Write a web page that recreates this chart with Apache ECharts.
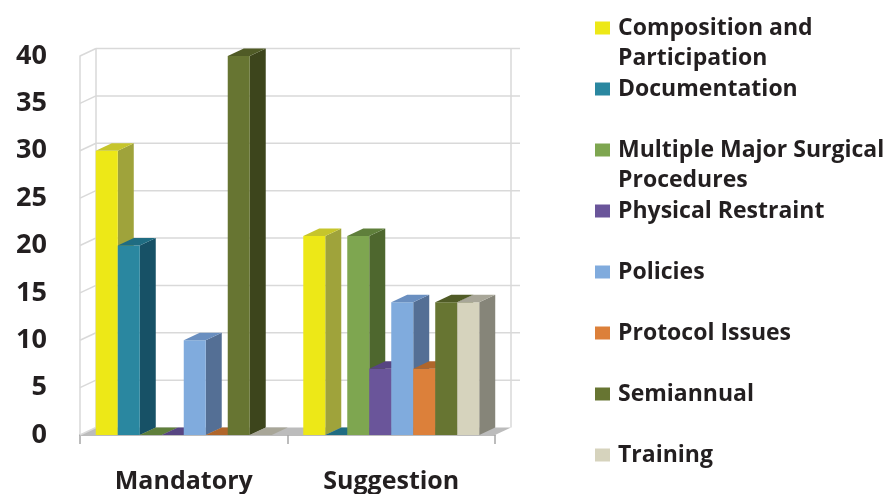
<!DOCTYPE html>
<html>
<head>
<meta charset="utf-8">
<script src="https://cdn.jsdelivr.net/npm/echarts@6/dist/echarts.min.js"></script>
<style>
  html, body { margin: 0; padding: 0; background: #ffffff; }
  #chart { width: 893px; height: 494px; }
</style>
</head>
<body>
<div id="chart"></div>
<script>
// Categories on the horizontal axis
var categories = ['Mandatory', 'Suggestion'];

// One value per category for each series
var seriesNames = [
  'Composition and Participation',
  'Documentation',
  'Multiple Major Surgical Procedures',
  'Physical Restraint',
  'Policies',
  'Protocol Issues',
  'Semiannual',
  'Training'
];
var compositionValues = [30, 21];
var documentationValues = [20, 0];
var multipleMajorValues = [0, 21];
var physicalRestraintValues = [0, 7];
var policiesValues = [10, 14];
var protocolIssuesValues = [0, 7];
var semiannualValues = [40, 14];
var trainingValues = [0, 14];

// Legend text, wrapped like the original labels
var legendLines = {
  'Composition and Participation': ['Composition and', 'Participation'],
  'Multiple Major Surgical Procedures': ['Multiple Major Surgical', 'Procedures']
};

// Value axis ticks
var yTicks = [0, 5, 10, 15, 20, 25, 30, 35, 40];

var seriesValues = [
  compositionValues, documentationValues, multipleMajorValues,
  physicalRestraintValues, policiesValues, protocolIssuesValues,
  semiannualValues, trainingValues
];

// Face colours: front, top, side
var palette = [
  ['#ede817', '#c6c52c', '#9fa33b'],
  ['#2a87a0', '#1f6c82', '#175166'],
  ['#7ea650', '#5f7f3b', '#4e672e'],
  ['#6a559a', '#574582', '#4a3b6c'],
  ['#80abdd', '#6a8fc0', '#546f95'],
  ['#dc803a', '#b0662b', '#9a5a28'],
  ['#677532', '#505b26', '#3d451c'],
  ['#d6d3bd', '#a8a698', '#868579']
];

// Depth of the 3-D projection
var DX = 16, DY = -7.5;
var TEXT = '#231f20';
var FONT = '"Open Sans", "DejaVu Sans", sans-serif';

function renderWalls(params, api) {
  var cs = params.coordSys;
  var x0 = cs.x, x1 = cs.x + cs.width;
  var children = [];
  var yBase = api.coord([0, yTicks[0]])[1];
  var yTop = api.coord([0, yTicks[yTicks.length - 1]])[1];
  var wallLine = { stroke: '#d9d9d9', lineWidth: 1.5, fill: null };
  // floor
  children.push({
    type: 'polygon',
    shape: { points: [[x0, yBase], [x1, yBase], [x1 + DX, yBase + DY], [x0 + DX, yBase + DY]] },
    style: { fill: '#bcbcbc' }
  });
  // back wall and left wall grid lines
  yTicks.forEach(function (v) {
    var y = api.coord([0, v])[1];
    if (v !== 0) {
      children.push({ type: 'line', shape: { x1: x0 + DX, y1: y + DY, x2: x1 + DX + 9, y2: y + DY }, style: wallLine });
    }
    children.push({ type: 'line', shape: { x1: x0, y1: y, x2: x0 + DX, y2: y + DY }, style: wallLine });
  });
  // wall edges
  children.push({ type: 'line', shape: { x1: x0 + DX, y1: yBase + DY, x2: x0 + DX, y2: yTop + DY }, style: wallLine });
  children.push({ type: 'line', shape: { x1: x1 + DX, y1: yBase + DY, x2: x1 + DX, y2: yTop + DY }, style: wallLine });
  return { type: 'group', children: children };
}

function makeBarRenderer(si) {
  return function (params, api) {
    var cat = api.value(0);
    var val = api.value(1);
    var c = api.coord([cat, val]);
    var base = api.coord([cat, 0]);
    var band = api.size([1, 0])[0];
    var bw = band * 0.106;
    var xl = c[0] - 4 * bw + si * bw;
    var xr = xl + bw;
    var yt = c[1], yb = base[1];
    var col = palette[si];
    var children = [];
    if (yb - yt > 0.5) {
      children.push({
        type: 'polygon',
        shape: { points: [[xr, yb], [xr + DX, yb + DY], [xr + DX, yt + DY], [xr, yt]] },
        style: { fill: col[2] }
      });
      children.push({
        type: 'rect',
        shape: { x: xl, y: yt, width: bw, height: yb - yt },
        style: { fill: col[0] }
      });
    }
    children.push({
      type: 'polygon',
      shape: { points: [[xl, yt], [xr, yt], [xr + DX, yt + DY], [xl + DX, yt + DY]] },
      style: { fill: col[1] }
    });
    return { type: 'group', children: children };
  };
}

var series = [{
  type: 'custom',
  name: '__walls',
  silent: true,
  z: 1,
  renderItem: renderWalls,
  data: [[0, 0]],
  encode: { x: 0, y: 1 }
}];

seriesNames.forEach(function (name, si) {
  series.push({
    type: 'custom',
    name: name,
    z: 3,
    itemStyle: { color: palette[si][0] },
    renderItem: makeBarRenderer(si),
    encode: { x: 0, y: 1 },
    data: seriesValues[si].map(function (v, ci) { return [ci, v]; })
  });
});

var chart = echarts.init(document.getElementById('chart'), null, { renderer: 'canvas' });
chart.setOption({
  animation: false,
  backgroundColor: '#ffffff',
  grid: { left: 80, right: 398, top: 56, bottom: 59, containLabel: false },
  xAxis: {
    type: 'category',
    data: categories,
    axisLine: { lineStyle: { color: '#a6a6a6', width: 1.5 } },
    axisTick: { show: true, length: 9, lineStyle: { color: '#a6a6a6', width: 1.5 } },
    axisLabel: { color: TEXT, fontFamily: FONT, fontWeight: 700, fontSize: 25, margin: 34 },
    splitLine: { show: false }
  },
  yAxis: {
    type: 'value',
    min: 0,
    max: 40,
    interval: 5,
    axisLine: { show: true, lineStyle: { color: '#d9d9d9', width: 1.5 } },
    axisTick: { show: false },
    splitLine: { show: false },
    axisLabel: {
      color: TEXT, fontFamily: FONT, fontWeight: 700, fontSize: 27, margin: 33,
      padding: [6, 0, 0, 0]
    }
  },
  legend: {
    data: seriesNames,
    orient: 'vertical',
    left: 595,
    top: -17,
    height: 640,
    padding: 0,
    itemGap: -29,
    itemWidth: 15,
    itemHeight: 13,
    icon: 'rect',
    selectedMode: false,
    formatter: function (name) {
      var lines = legendLines[name];
      return lines ? '\n' + lines.join('\n') : '\n' + name + '\n';
    },
    textStyle: {
      color: TEXT, fontFamily: FONT, fontWeight: 700, fontSize: 23,
      lineHeight: 30, padding: [0, 0, 0, 3]
    }
  },
  series: series
});
</script>
</body>
</html>
